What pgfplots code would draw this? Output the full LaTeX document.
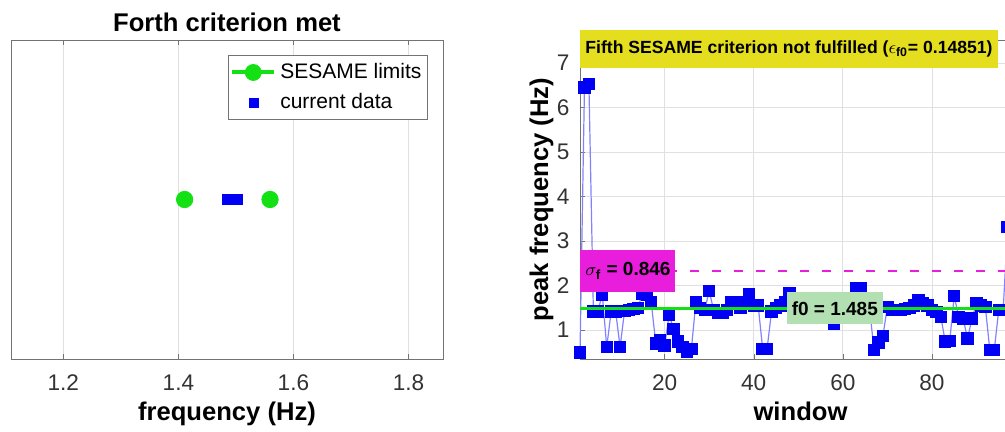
\documentclass[border=0pt]{standalone}
\usepackage{pgfplots}
\pgfplotsset{compat=1.18}
\usepackage{pgfplotstable}
\usepackage{fontspec}
\setmainfont{Liberation Sans}
\definecolor{mgreen}{RGB}{20,225,20}
\definecolor{myellow}{RGB}{228,222,30}
\definecolor{mmag}{RGB}{232,30,220}
\definecolor{lgreen}{RGB}{178,224,178}
\definecolor{lblue}{RGB}{130,130,255}
\definecolor{mblue}{RGB}{0,0,245}

\pgfplotstableread{
w f
1 0.50
2 6.45
3 6.53
4 1.42
5 1.42
6 1.80
7 0.62
8 1.42
9 1.42
10 0.62
11 1.43
12 1.45
13 1.47
14 1.50
15 1.82
16 1.80
17 1.62
18 0.70
19 0.78
20 0.65
21 1.34
22 1.03
23 0.74
24 0.62
25 0.52
26 0.57
27 1.62
28 1.50
29 1.45
30 1.88
31 1.45
32 1.38
33 1.38
34 1.45
35 1.62
36 1.62
37 1.50
38 1.62
39 1.80
40 1.55
41 1.55
42 0.58
43 0.58
44 1.42
45 1.50
46 1.55
47 1.62
48 1.82
49 1.55
50 1.52
51 1.58
52 1.50
53 1.55
54 1.60
55 1.52
56 1.50
57 1.55
58 1.15
59 1.55
60 1.58
61 1.52
62 1.55
63 1.93
64 1.93
65 1.55
66 1.50
67 0.55
68 0.72
69 0.87
70 1.52
71 1.45
72 1.45
73 1.45
74 1.47
75 1.50
76 1.55
77 1.67
78 1.60
79 1.55
80 1.45
81 1.41
82 1.30
83 0.74
84 0.75
85 1.77
86 1.30
87 1.26
88 0.81
89 1.26
90 1.60
91 1.55
92 1.52
93 0.55
94 0.55
95 1.45
96 1.45
97 3.32
}\peakdata

\pgfplotsset{mstyle/.style={
  scale only axis,
  axis line style={black!55},
  tick style={black!55},
  tick align=inside,
  major tick length=2.5pt,
  ticklabel style={font=\fontsize{11.3}{13}\selectfont, text=black!80},
  /pgf/number format/assume math mode=true,
  grid style={black!12, line width=0.4pt},
  label style={font=\bfseries\fontsize{12.8}{15}\selectfont},
  xticklabel style={anchor=base, yshift=-15.8pt},
  xlabel style={at={(axis description cs:0.5,0)}, anchor=base, yshift=-31pt},
}}

\begin{document}
\begin{tikzpicture}
% ---------------- left panel ----------------
\begin{axis}[mstyle,
  at={(0pt,0pt)}, anchor=south west,
  width=216pt, height=159.5pt,
  xmin=1.109, xmax=1.86, ymin=0, ymax=2,
  xtick={1.2,1.4,1.6,1.8},
  xticklabels={1.2,1.4,1.6,1.8},
  ytick=\empty,
  xmajorgrids=true,
  title={Forth criterion met},
  title style={font=\bfseries\fontsize{12.8}{15}\selectfont, at={(axis description cs:0.5,1)}, anchor=base, yshift=-1.8pt},
  xlabel={frequency (Hz)},
  legend style={at={(0.965,0.953)}, anchor=north east, draw=black!55, fill=white,
    font=\fontsize{10.5}{12.5}\selectfont, cells={anchor=west},
    inner xsep=1pt, inner ysep=2pt, row sep=2pt},
]
\addplot[only marks, mark=*, mgreen, mark size=4.1pt,
  legend image code/.code={\draw[mgreen, line width=2pt] (0pt,0pt) -- (21pt,0pt); \fill[mgreen] (10.5pt,0pt) circle (4pt);}]
  coordinates {(1.4108,1) (1.5593,1)};
\addlegendentry{SESAME limits}
\addplot[only marks, mark=square*, mblue, mark size=2.5pt,
  legend image code/.code={\fill[mblue] (8.5pt,-2.2pt) rectangle (12.9pt,2.2pt);}]
  coordinates {(1.4847,1) (1.5021,1)};
\addlegendentry{current data}
\end{axis}

% ---------------- right panel ----------------
\begin{axis}[mstyle, set layers,
  at={(284.5pt,0pt)}, anchor=south west,
  width=220.5pt, height=159.5pt,
  xmin=1, xmax=100, ymin=0.35, ymax=7.52,
  xtick={20,40,60,80},
  ytick={1,2,3,4,5,6,7},
  grid=major,
  clip=false,
  xlabel={window},
  ylabel={peak frequency (Hz)},
  ylabel style={at={(axis description cs:-0.0725,0.5)}, anchor=base},
  yticklabel style={xshift=-1.7pt},
]
\addplot[lblue, line width=0.6pt, mark=square*, mark size=2.8pt,
  mark options={fill=mblue, draw=mblue}] table[x=w, y=f] {\peakdata};
\addplot[on layer=axis foreground, mmag, line width=1.2pt, dash pattern=on 4.5pt off 6.5pt] coordinates {(1,2.331) (100,2.331)};
\addplot[on layer=axis foreground, mgreen, line width=1.5pt] coordinates {(1,1.485) (100,1.485)};
\coordinate (ytop) at (rel axis cs:0,1);
\coordinate (sig) at (axis cs:1,2.331);
\coordinate (fz) at (axis cs:58.2,1.485);
\end{axis}

\begin{pgfonlayer}{axis foreground}
\node[fill=myellow, anchor=north west, inner xsep=2.5pt, inner ysep=0pt,
  minimum width=207.5pt, minimum height=19pt,
  font=\bfseries\fontsize{8.8}{11}\selectfont]
  at ([yshift=5pt]ytop)
  {Fifth SESAME criterion not fulfilled ($\epsilon_{\mathbf{f0}}$= 0.14851)};
\node[fill=mmag, anchor=west, inner sep=2pt, minimum width=47.5pt, minimum height=21pt,
  font=\bfseries\fontsize{9.5}{11}\selectfont]
  at (sig) {$\sigma_{\mathbf{f}}$ = 0.846};
\node[fill=lgreen, anchor=center, inner sep=1pt, minimum width=48pt, minimum height=16pt,
  font=\bfseries\fontsize{9.5}{11}\selectfont]
  at (fz) {f0 = 1.485};
\end{pgfonlayer}

\pgfresetboundingbox
\path[use as bounding box] (-5.5pt,-36.5pt) rectangle (497pt,179.5pt);
\end{tikzpicture}
\end{document}
